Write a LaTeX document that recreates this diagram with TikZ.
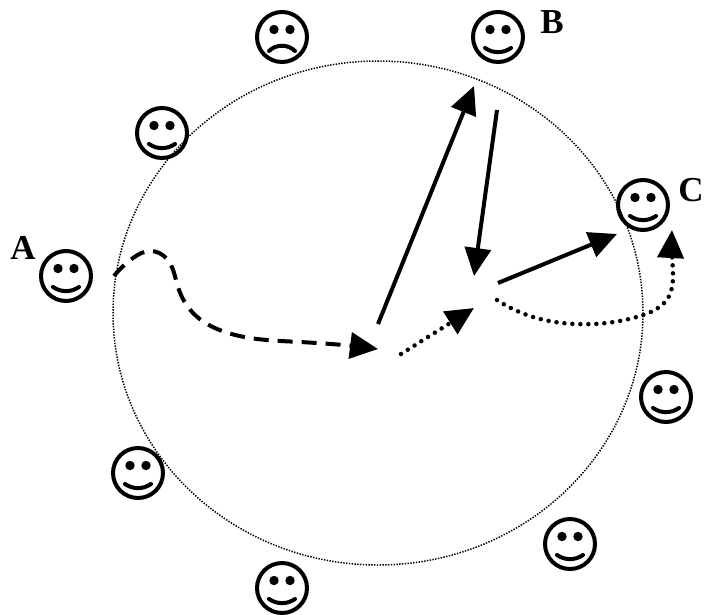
\documentclass[tikz,border=0pt]{standalone}
\usepackage{fontspec}
\setmainfont{Liberation Serif}
\usetikzlibrary{arrows.meta}
\usetikzlibrary{hobby}
\newcommand{\faceeyes}{
  \fill ([xshift=-8pt,yshift=7.5pt]path picture bounding box.center) circle (4.7pt);
  \fill ([xshift=8pt,yshift=7.5pt]path picture bounding box.center) circle (4.7pt);
}
\tikzset{
  face/.style={circle,draw,line width=4pt,minimum size=50pt,inner sep=0pt},
  happy/.style={face,path picture={\faceeyes
    \draw[line width=4pt,line cap=round] ([xshift=-13pt,yshift=-11pt]path picture bounding box.center) .. controls +(8pt,-5.5pt) and +(-8pt,-5.5pt) .. ([xshift=13pt,yshift=-11pt]path picture bounding box.center);}},
  sad/.style={face,path picture={\faceeyes
    \draw[line width=4pt,line cap=round] ([xshift=-13pt,yshift=-14pt]path picture bounding box.center) .. controls +(7pt,7pt) and +(-7pt,7pt) .. ([xshift=13pt,yshift=-14pt]path picture bounding box.center);}},
  tip/.style={-{Triangle[length=28pt,width=26pt]}},
  solidarrow/.style={tip,line width=4pt},
  dasharrow/.style={tip,line width=4pt,dash pattern=on 15pt off 9pt},
  dotarrow/.style={tip,line width=4.5pt,line cap=round,dash pattern=on 0pt off 8pt},
  letter/.style={font=\fontsize{35}{35}\selectfont\bfseries,inner sep=0pt}
}

\begin{document}
\begin{tikzpicture}[x=1pt,y=-1pt]
      \useasboundingbox (0,0) rectangle (704,614);

      \draw[line width=1.5pt,dash pattern=on 1.4pt off 1.4pt] (378,313) circle [x radius=265,y radius=252];

      \node (faceA) at (66,276) [happy]{};
      \node (faceTop) at (282,37) [sad]{};
      \node (faceB) at (498,37) [happy]{};
      \node (faceC) at (643,205) [happy]{};
      \node (faceE) at (666,397) [happy]{};
      \node (faceF) at (570,544) [happy]{};
      \node (faceG) at (282,588) [happy]{};
      \node (faceH) at (138,473) [happy]{};
      \node (faceI) at (162,133) [happy]{};

      \node (labelA) at (23,248) [letter]{A};
      \node (labelB) at (552,22) [letter]{B};
      \node (labelC) at (691,190) [letter]{C};

      \coordinate (start) at (114,276);
      \coordinate (hop) at (378,349);
      \coordinate (hopfoot) at (378,324);
      \coordinate (second) at (474,86);
      \coordinate (secondtop) at (497,110);
      \coordinate (third) at (474,276);
      \coordinate (thirdout) at (498,283);
      \coordinate (fourth) at (617,234);
      \coordinate (slow) at (401,354);
      \coordinate (slowend) at (474,308);
      \coordinate (loopstart) at (497,300);
      \coordinate (loopend) at (672,230);

      \draw[dasharrow] (start) to[curve through={(133,258) (150,251) (167,259) (178,287) (193,313) (225,332) (300,342)}] (hop);
      \draw[solidarrow] (hopfoot) -- (second);
      \draw[solidarrow] (secondtop) -- (third);
      \draw[solidarrow] (thirdout) -- (fourth);
      \draw[dotarrow] (slow) -- (slowend);
      \draw[dotarrow] (loopstart) to[curve through={(530,316) (575,324) (640,316) (668,298) (673,275) (672,255)}] (loopend);
    \end{tikzpicture}
\end{document}
